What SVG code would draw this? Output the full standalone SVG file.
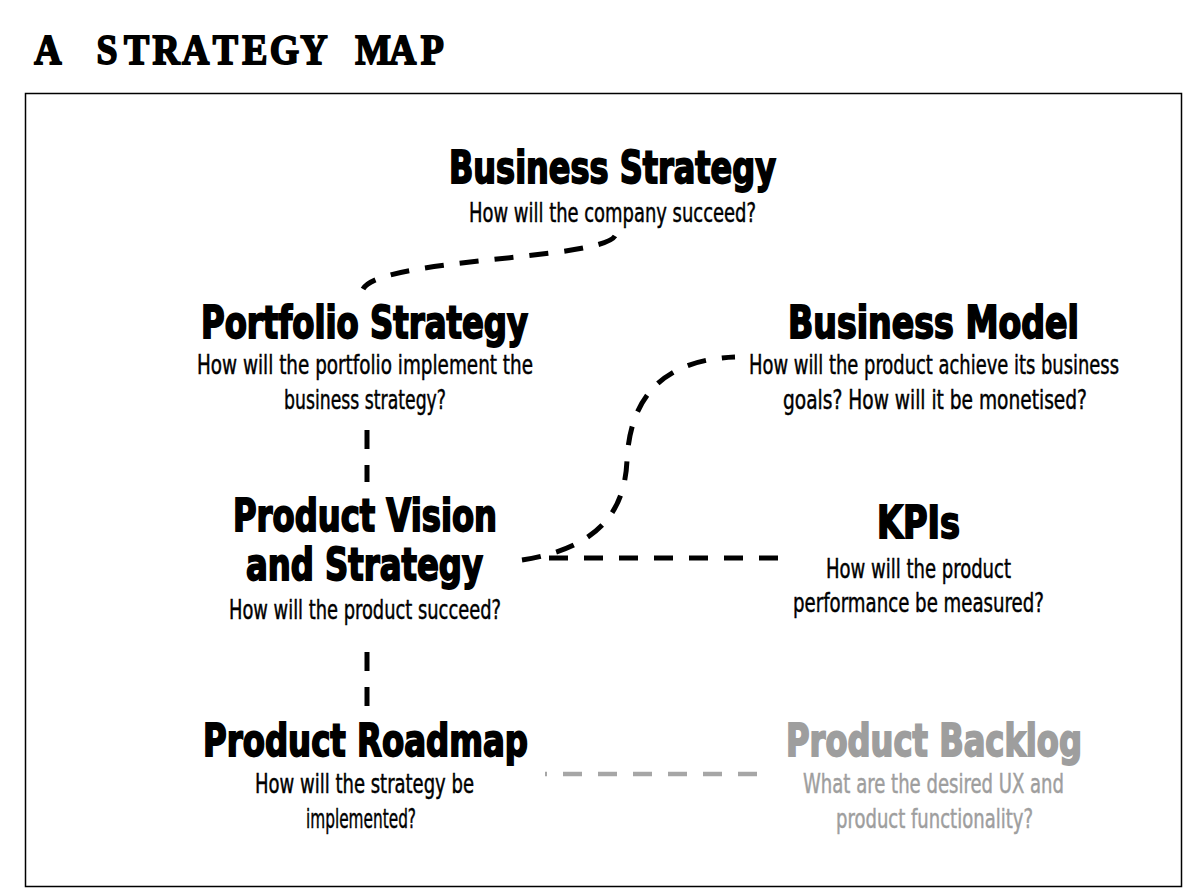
<svg xmlns="http://www.w3.org/2000/svg" width="1183" height="889" viewBox="0 0 1183 889">
<style>
.hd{font-family:"Liberation Serif","Times New Roman",serif;font-weight:bold;font-size:42px;fill:#000;stroke:#000;stroke-width:1.8;text-anchor:middle}
.t{font-family:"DejaVu Sans","Liberation Sans",sans-serif;font-weight:bold;font-stretch:condensed;font-size:44px;fill:#000;stroke:#000;stroke-width:1.8;text-anchor:middle}
.s{font-family:"DejaVu Sans","Liberation Sans",sans-serif;font-stretch:condensed;font-size:26px;fill:#000;stroke:#000;stroke-width:0.45;text-anchor:middle}
.g .t{fill:#9e9e9e;stroke:#9e9e9e}
.g .s{fill:#9e9e9e;stroke:#9e9e9e}
.c{fill:none;stroke:#000;stroke-width:5;stroke-dasharray:19 16}
.cg{fill:none;stroke:#a6a6a6;stroke-width:4.5;stroke-dasharray:19 16}
</style>
<rect width="1183" height="889" fill="#fff"/>
<text class="hd" transform="scale(0.9,1)" y="64" x="53.1 86 118.9 151.7 184.6 217.4 250.3 283.1 316 348.8 381.7 414.6 447.3 480.2">A STRATEGY MAP</text>
<rect x="25.5" y="93.5" width="1156" height="793" fill="none" stroke="#000" stroke-width="1.5"/>
<g id="connectors">
<path class="c" d="M615 236 C600 260 380 258 363 289"/>
<path class="c" d="M367 430 L367 482" stroke-dasharray="17 15"/>
<path class="c" d="M367 652 L367 708" stroke-dasharray="16 14"/>
<path class="c" d="M522 560 C600 548 625 510 627 460 C630 400 660 360 735 357"/>
<path class="c" d="M778 558 L545 558"/>
<path class="cg" d="M757 774 L545 774"/>
</g>
<g id="business-strategy">
<text class="t" x="612.5" y="183" textLength="327" lengthAdjust="spacingAndGlyphs">Business Strategy</text>
<text class="s" x="612.5" y="222" textLength="287" lengthAdjust="spacingAndGlyphs">How will the company succeed?</text>
</g>
<g id="portfolio-strategy">
<text class="t" x="364.5" y="338" textLength="327" lengthAdjust="spacingAndGlyphs">Portfolio Strategy</text>
<text class="s" x="365" y="374" textLength="336" lengthAdjust="spacingAndGlyphs">How will the portfolio implement the</text>
<text class="s" x="365" y="409" textLength="162" lengthAdjust="spacingAndGlyphs">business strategy?</text>
</g>
<g id="business-model">
<text class="t" x="933.5" y="338" textLength="291" lengthAdjust="spacingAndGlyphs">Business Model</text>
<text class="s" x="934" y="374" textLength="370" lengthAdjust="spacingAndGlyphs">How will the product achieve its business</text>
<text class="s" x="935" y="409" textLength="304" lengthAdjust="spacingAndGlyphs">goals? How will it be monetised?</text>
</g>
<g id="product-vision">
<text class="t" x="365" y="531" textLength="264" lengthAdjust="spacingAndGlyphs">Product Vision</text>
<text class="t" x="364.5" y="580" textLength="237" lengthAdjust="spacingAndGlyphs">and Strategy</text>
<text class="s" x="365" y="619" textLength="272" lengthAdjust="spacingAndGlyphs">How will the product succeed?</text>
</g>
<g id="kpis">
<text class="t" x="918.5" y="538" textLength="83" lengthAdjust="spacingAndGlyphs">KPIs</text>
<text class="s" x="918.5" y="578" textLength="185" lengthAdjust="spacingAndGlyphs">How will the product</text>
<text class="s" x="918.5" y="612" textLength="251" lengthAdjust="spacingAndGlyphs">performance be measured?</text>
</g>
<g id="product-roadmap">
<text class="t" x="365.5" y="756" textLength="325" lengthAdjust="spacingAndGlyphs">Product Roadmap</text>
<text class="s" x="364.5" y="793" textLength="219" lengthAdjust="spacingAndGlyphs">How will the strategy be</text>
<text class="s" x="361" y="828" textLength="110" lengthAdjust="spacingAndGlyphs">implemented?</text>
</g>
<g id="product-backlog" class="g">
<text class="t" x="934" y="756" textLength="296" lengthAdjust="spacingAndGlyphs">Product Backlog</text>
<text class="s" x="933.5" y="793" textLength="261" lengthAdjust="spacingAndGlyphs">What are the desired UX and</text>
<text class="s" x="934.5" y="828" textLength="197" lengthAdjust="spacingAndGlyphs">product functionality?</text>
</g>
</svg>
